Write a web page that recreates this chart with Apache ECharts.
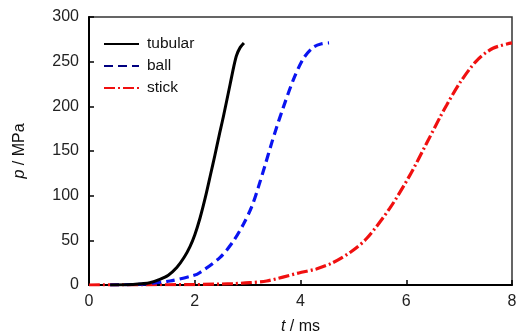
<!DOCTYPE html>
<html>
<head>
<meta charset="utf-8">
<script src="https://cdn.jsdelivr.net/npm/echarts@6/dist/echarts.min.js"></script>
<style>
html,body{margin:0;padding:0;background:#fff;}
#c{width:516px;height:331px;}
</style>
</head>
<body>
<div id="c"></div>
<script>
var seriesNames = ['tubular', 'ball', 'stick'];
var xTicks = [0, 2, 4, 6, 8];
var yTicks = [0, 50, 100, 150, 200, 250, 300];

var tubularT = [0.4, 0.8, 1.0, 1.15, 1.34, 1.5, 1.66, 1.8, 1.91, 2.0, 2.1, 2.2, 2.3, 2.38, 2.46, 2.54, 2.67, 2.74, 2.79, 2.86, 2.93];
var tubularP = [0, 0.5, 1.5, 2.6, 6.4, 11, 19.5, 31, 43, 56, 75, 98, 124, 145, 167, 188, 225, 245, 257, 266, 271];

var ballT = [0.4, 1.0, 1.53, 1.97, 2.1, 2.48, 2.73, 2.92, 3.08, 3.2, 3.33, 3.45, 3.54, 3.67, 3.86, 4.05, 4.24, 4.4, 4.54];
var ballP = [0, 1, 4.5, 10.5, 14, 31, 49, 68, 88, 109, 134, 158, 175, 198, 229, 253, 266, 270, 271];

var stickT = [0, 1.0, 2.0, 2.72, 3.04, 3.36, 3.97, 4.3, 4.61, 4.95, 5.25, 5.69, 6.07, 6.38, 6.64, 6.76, 7.01, 7.33, 7.64, 8.0];
var stickP = [0, 0.2, 0.5, 1.5, 2.6, 4.5, 13.5, 18, 25, 37, 52, 86, 123, 158, 188, 201, 226, 251, 265, 271];

function pairs(t, p) { return t.map(function (v, i) { return [v, p[i]]; }); }

var FONT = "'Liberation Sans', Arial, sans-serif";
var chart = echarts.init(document.getElementById('c'), null, {renderer: 'canvas'});
chart.setOption({
  animation: false,
  backgroundColor: '#fff',
  grid: {left: 89, right: 4, top: 17, bottom: 46, show: true, borderColor: '#333', borderWidth: 1.5,
    backgroundColor: 'transparent', containLabel: false, outerBoundsMode: 'none'},
  legend: {
    orient: 'vertical', left: 98, top: 31, itemWidth: 35, itemHeight: 14, itemGap: 6,
    itemStyle: {opacity: 0},
    textStyle: {fontFamily: FONT, fontSize: 15.5, color: '#111', padding: [0, 0, 0, 3]},
    data: [
      {name: seriesNames[0]},
      {name: seriesNames[1], lineStyle: {color: '#000080'}},
      {name: seriesNames[2]}
    ]
  },
  xAxis: {
    type: 'value', min: 0, max: 8, interval: 2,
    name: '{i|t} / ms', nameLocation: 'middle', nameGap: 34,
    nameTextStyle: {fontFamily: FONT, fontSize: 16, color: '#111', rich: {i: {fontStyle: 'italic', fontFamily: FONT, fontSize: 16, color: '#111'}}},
    axisLine: {lineStyle: {color: '#000', width: 2}},
    axisTick: {inside: true, length: 5, lineStyle: {color: '#000', width: 1.5}},
    axisLabel: {fontFamily: FONT, fontSize: 16, color: '#222', margin: 9,
      formatter: function (v) { return xTicks.indexOf(v) >= 0 ? String(v) : ''; }},
    splitLine: {show: false}
  },
  yAxis: {
    type: 'value', min: 0, max: 300, interval: 50,
    name: '{i|p} / MPa', nameLocation: 'middle', nameGap: 61,
    nameTextStyle: {fontFamily: FONT, fontSize: 16, color: '#111', rich: {i: {fontStyle: 'italic', fontFamily: FONT, fontSize: 16, color: '#111'}}},
    axisLine: {lineStyle: {color: '#000', width: 2}},
    axisTick: {inside: true, length: 5, lineStyle: {color: '#000', width: 1.5}},
    axisLabel: {fontFamily: FONT, fontSize: 16, color: '#222', margin: 10,
      formatter: function (v) { return yTicks.indexOf(v) >= 0 ? String(v) : ''; }},
    splitLine: {show: false}
  },
  series: [
    {name: seriesNames[0], type: 'line', data: pairs(tubularT, tubularP), showSymbol: false, symbol: 'none',
      smooth: 0.3, z: 5,
      lineStyle: {color: '#000', width: 3, type: 'solid'}, itemStyle: {color: '#000'}},
    {name: seriesNames[1], type: 'line', data: pairs(ballT, ballP), showSymbol: false, symbol: 'none',
      smooth: 0.3, z: 4,
      lineStyle: {color: '#0a14f0', width: 3.2, type: [9, 5]}, itemStyle: {color: '#0a14f0'}},
    {name: seriesNames[2], type: 'line', data: pairs(stickT, stickP), showSymbol: false, symbol: 'none',
      smooth: 0.3, z: 3,
      lineStyle: {color: '#f01010', width: 3.2, type: [11, 3, 2, 3]}, itemStyle: {color: '#f01010'}}
  ]
});
</script>
</body>
</html>
